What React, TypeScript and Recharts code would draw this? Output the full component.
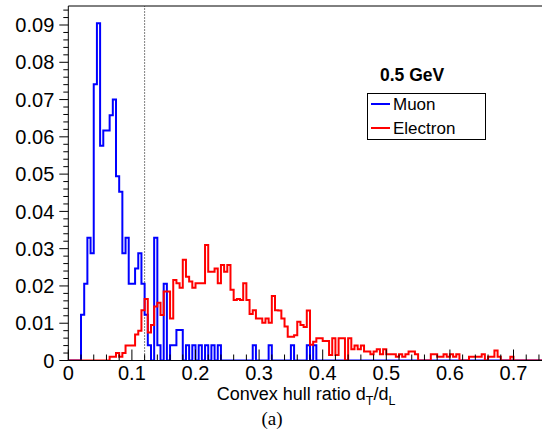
import React from 'react';
import { LineChart, Line, XAxis, YAxis, ReferenceLine } from 'recharts';

const BIN_WIDTH = 0.005;
const X_MAX = 0.75;
const Y_MAX = 0.0951;
const CUT_VALUE = 0.12;

const xMajorTicks = [0, 0.1, 0.2, 0.3, 0.4, 0.5, 0.6, 0.7];
const xTickLabels = ['0', '0.1', '0.2', '0.3', '0.4', '0.5', '0.6', '0.7'];
const yMajorTicks = [0, 0.01, 0.02, 0.03, 0.04, 0.05, 0.06, 0.07, 0.08, 0.09];
const yTickLabels = ['0', '0.01', '0.02', '0.03', '0.04', '0.05', '0.06', '0.07', '0.08', '0.09'];

const seriesNames = ['Muon', 'Electron'];
const legendTitle = '0.5 GeV';
const caption = '(a)';

// Muon histogram, bins of 0.005 starting at 0
const muon = [
  0, 0, 0, 0, 0.0123, 0.0206, 0.0329, 0.0288, 0.0741, 0.0905,
  0.0576, 0.0617, 0.0617, 0.0658, 0.07, 0.0494, 0.0453, 0.0288, 0.0329, 0.0206,
  0.0206, 0.0247, 0.0288, 0.0206, 0.0123, 0.0041, 0, 0.0329, 0.0041, 0,
  0.0206, 0, 0.0041, 0.0041, 0.0082, 0.0082, 0, 0.0041, 0, 0.0041,
  0, 0.0041, 0, 0.0041, 0, 0.0041, 0, 0.0041, 0, 0,
  0, 0, 0, 0, 0, 0, 0, 0, 0.0041, 0,
  0, 0, 0, 0.0041, 0, 0, 0, 0, 0, 0,
  0.0041, 0, 0, 0, 0, 0.0041, 0, 0.0041, 0, 0,
  0, 0, 0, 0, 0, 0, 0, 0, 0, 0,
  0, 0, 0, 0, 0, 0, 0, 0, 0, 0,
  0, 0, 0, 0, 0, 0, 0, 0, 0, 0,
  0, 0, 0, 0, 0, 0, 0, 0, 0, 0,
  0, 0, 0, 0, 0, 0, 0, 0, 0, 0,
  0, 0, 0, 0, 0, 0, 0, 0, 0, 0,
  0, 0, 0, 0, 0, 0, 0, 0, 0, 0,
];

// Electron histogram, bins of 0.005 starting at 0
const electron = [
  0, 0, 0, 0, 0, 0, 0, 0, 0, 0,
  0, 0, 0, 0.001, 0.001, 0.002, 0.001, 0.002, 0.004, 0.004,
  0.004, 0.007, 0.008, 0.0135, 0.0165, 0.0075, 0.0095, 0.0145, 0.0155, 0.0122,
  0.0185, 0.0185, 0.0113, 0.0216, 0.0207, 0.0195, 0.027, 0.0225, 0.0212, 0.0195,
  0.0207, 0.0207, 0.0207, 0.031, 0.0238, 0.0238, 0.0247, 0.0207, 0.0256, 0.0238,
  0.0256, 0.019, 0.0162, 0.0165, 0.0162, 0.0207, 0.0162, 0.0125, 0.0135, 0.0113,
  0.0113, 0.0101, 0.0113, 0.0101, 0.0173, 0.0135, 0.0134, 0.0113, 0.0091, 0.0064,
  0.0064, 0.0068, 0.0104, 0.0095, 0.009, 0.0134, 0.0042, 0.005, 0.006, 0.006,
  0.0052, 0.0052, 0.0015, 0.006, 0.0015, 0.006, 0.006, 0, 0.006, 0.003,
  0.004, 0.003, 0.004, 0.0024, 0.0024, 0.0017, 0.0024, 0.003, 0.0017, 0.003,
  0.0017, 0.0017, 0.0017, 0.001, 0.0017, 0.001, 0.0017, 0.0024, 0.0024, 0.0017,
  0, 0, 0, 0, 0.0017, 0.0017, 0.001, 0.001, 0.0017, 0.001,
  0.0017, 0.001, 0.0017, 0, 0, 0, 0.001, 0.001, 0.001, 0.001,
  0.0017, 0, 0.001, 0.001, 0.0027, 0.001, 0, 0, 0, 0.001,
  0, 0, 0, 0, 0, 0, 0, 0, 0, 0,
];

const data = muon.map((m, i) => ({
  x: +(i * BIN_WIDTH).toFixed(4),
  muon: m,
  electron: electron[i],
}));
data.push({ x: X_MAX, muon: muon[muon.length - 1], electron: electron[electron.length - 1] });

const xAllTicks: number[] = [];
for (let i = 0; i <= 37; i++) xAllTicks.push(+(i * 0.02).toFixed(4));
const yAllTicks: number[] = [];
for (let i = 0; i <= 47; i++) yAllTicks.push(+(i * 0.002).toFixed(4));

const FONT = "'Liberation Sans', Arial, Helvetica, sans-serif";
const TICK_FONT = 20;

const findMajor = (arr: number[], v: number) => arr.findIndex((t) => Math.abs(t - v) < 1e-7);

const XTick = (props: any) => {
  const { x, y, payload } = props;
  const idx = findMajor(xMajorTicks, payload.value);
  const major = idx >= 0;
  return (
    <g>
      <line x1={x} x2={x} y1={y} y2={y - (major ? 11 : 6)} stroke="#000" strokeWidth={1} />
      {major && (
        <text x={x} y={y + 19} textAnchor="middle" fontSize={TICK_FONT} fontFamily={FONT} fill="#000">
          {xTickLabels[idx]}
        </text>
      )}
    </g>
  );
};

const YTick = (props: any) => {
  const { x, y, payload } = props;
  const idx = findMajor(yMajorTicks, payload.value);
  const major = idx >= 0;
  return (
    <g>
      <line x1={x} x2={x - (major ? 9 : 5)} y1={y} y2={y} stroke="#000" strokeWidth={1} />
      {major && (
        <text x={x - 14} y={y} dy="0.36em" textAnchor="end" fontSize={TICK_FONT} fontFamily={FONT} fill="#000">
          {yTickLabels[idx]}
        </text>
      )}
    </g>
  );
};

export default function App() {
  return (
    <div
      style={{
        position: 'absolute',
        left: 0,
        top: 0,
        width: 542,
        height: 439,
        overflow: 'hidden',
        background: '#fff',
      }}
    >
      <LineChart
        width={560}
        height={439}
        data={data}
        margin={{ top: 6, right: 14.7, bottom: 48.5, left: 8.3 }}
      >
        <XAxis
          type="number"
          dataKey="x"
          domain={[0, X_MAX]}
          ticks={xAllTicks}
          interval={0}
          tick={<XTick />}
          tickLine={false}
          tickSize={0}
          tickMargin={0}
          height={30}
          axisLine={{ stroke: '#000', strokeWidth: 1 }}
          allowDataOverflow
        />
        <YAxis
          type="number"
          domain={[0, Y_MAX]}
          ticks={yAllTicks}
          interval={0}
          tick={<YTick />}
          tickLine={false}
          tickSize={0}
          tickMargin={0}
          width={60}
          axisLine={{ stroke: '#000', strokeWidth: 1 }}
          allowDataOverflow
        />
        <ReferenceLine y={Y_MAX} stroke="#000" strokeWidth={1} />
        <ReferenceLine x={X_MAX} stroke="#000" strokeWidth={1} />
        <ReferenceLine x={CUT_VALUE} stroke="#000" strokeWidth={1} strokeDasharray="1 2" />
        <Line
          type="stepAfter"
          dataKey="muon"
          name={seriesNames[0]}
          stroke="#0000ff"
          strokeWidth={2}
          dot={false}
          activeDot={false}
          isAnimationActive={false}
        />
        <Line
          type="stepAfter"
          dataKey="electron"
          name={seriesNames[1]}
          stroke="#ff0000"
          strokeWidth={2}
          dot={false}
          activeDot={false}
          isAnimationActive={false}
        />
      </LineChart>
      <svg
        width={542}
        height={439}
        style={{ position: 'absolute', left: 0, top: 0, pointerEvents: 'none' }}
      >
        <text x={380} y={81} fontSize={17.5} fontWeight="bold" fontFamily={FONT} fill="#000">
          {legendTitle}
        </text>
        <rect x={367.5} y={93.5} width={118} height={46} fill="#fff" stroke="#000" strokeWidth={1} />
        <line x1={371} x2={390} y1={104} y2={104} stroke="#0000ff" strokeWidth={2} />
        <text x={393} y={104} dy="0.36em" fontSize={17} fontFamily={FONT} fill="#000">
          {seriesNames[0]}
        </text>
        <line x1={371} x2={390} y1={128} y2={128} stroke="#ff0000" strokeWidth={2} />
        <text x={393} y={128} dy="0.36em" fontSize={17} fontFamily={FONT} fill="#000">
          {seriesNames[1]}
        </text>
        <text x={306} y={400} textAnchor="middle" fontSize={18} fontFamily={FONT} fill="#000">
          Convex hull ratio d
          <tspan fontSize={12.5} dy={5}>T</tspan>
          <tspan dy={-5}>/d</tspan>
          <tspan fontSize={12.5} dy={5}>L</tspan>
        </text>
        <text
          x={272}
          y={425}
          textAnchor="middle"
          fontSize={19}
          fontFamily="'Liberation Serif', 'DejaVu Serif', serif"
          fill="#000"
        >
          {caption}
        </text>
      </svg>
    </div>
  );
}
